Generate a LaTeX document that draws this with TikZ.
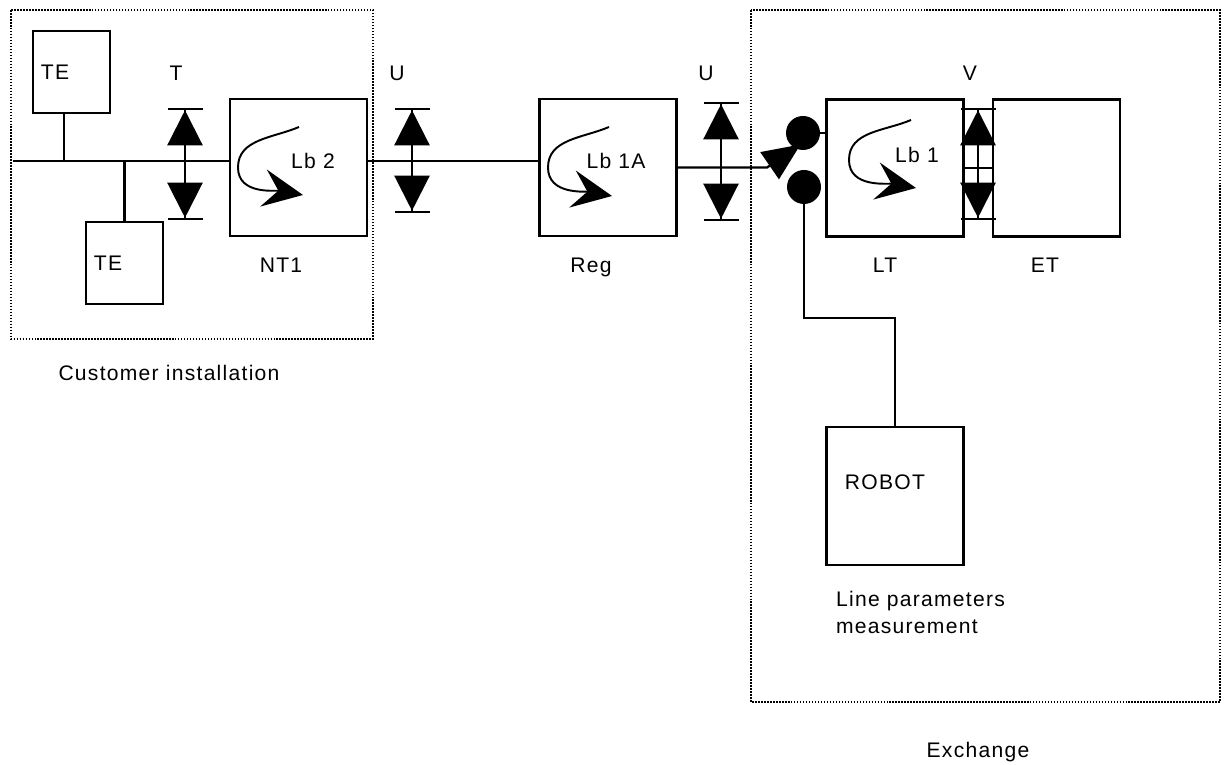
\documentclass[tikz,border=0pt]{standalone}
\usepackage{fontspec}
\setmainfont{Liberation Sans}[LetterSpace=6]
\usepackage{tikz}
\usetikzlibrary{arrows.meta, positioning, calc}

\begin{document}
\begin{tikzpicture}[
  >=Latex,
  wire/.style={line width=1.3pt},
  unit/.style={rectangle, draw=black, line width=1.3pt, minimum width=2.74cm, minimum height=2.74cm, inner sep=0pt},
  term/.style={rectangle, draw=black, line width=1.3pt, minimum width=1.54cm, minimum height=1.64cm, inner sep=0pt},
  txt/.style={font=\fontsize{12}{15.3}\selectfont, inner sep=1pt, text depth=0pt},
  zone/.style={draw=black, line width=1.2pt, dash pattern=on 0.9pt off 0.8pt},
  contact/.style={circle, fill=black, minimum size=0.68cm, inner sep=0pt},
  iface/.style={line width=1.3pt, {Bar[width=7mm]Triangle[width=7mm, length=7mm]}-{Triangle[width=7mm, length=7mm]Bar[width=7mm]}},
  loopback/.style={line width=1.1pt, -{Stealth[length=8mm, width=7.5mm, inset=3mm]}},
  switch/.style={wire, -{Triangle[length=7.5mm, width=6.5mm]}}
]
  \useasboundingbox (0,0) rectangle (24.5,15.3);

  % Customer installation and exchange areas
  \draw[zone] (0.22,15.1) rectangle (7.46,8.52);
  \draw[zone] (15.02,15.1) rectangle (24.4,1.26);
  \node[txt] (custtxt) at (3.38,7.85) {Customer installation};
  \node[txt] (exchtxt) at (19.56,0.31) {Exchange};

  % Terminals
  \node[term] (te1) at (1.43,13.86) {};
  \node[term] (te2) at (2.49,10.04) {};
  \node[txt, anchor=west] (te1txt) at ($(te1.west)+(0.14,0)$) {TE};
  \node[txt, anchor=west] (te2txt) at ($(te2.west)+(0.14,0)$) {TE};

  % Line units
  \node[unit] (nt1) at (5.97,11.95) {};
  \node[unit] (reg) at (12.16,11.95) {};
  \node[unit] (lt) at (17.9,11.94) {};
  \node[unit, minimum width=2.54cm] (et) at (21.13,11.94) {};
  \node[unit, minimum height=2.76cm] (robot) at (17.9,5.38) {};
  \node[txt] (robottxt) at (17.7,5.66) {ROBOT};
  \node[txt, anchor=north west, align=left] (meastxt) at (16.68,3.52) {Line parameters\\measurement};

  % Unit names
  \node[txt] (nt1txt) at (5.62,9.99) {NT1};
  \node[txt] (regtxt) at (11.82,9.99) {Reg};
  \node[txt] (lttxt) at (17.7,9.99) {LT};
  \node[txt] (ettxt) at (20.9,9.99) {ET};

  % Loopback names
  \node[txt] (lb2) at (6.26,12.08) {Lb 2};
  \node[txt] (lb1a) at (12.32,12.08) {Lb 1A};
  \node[txt] (lb1) at (18.34,12.21) {Lb 1};

  % Reference point names
  \node[txt] (tlab) at (3.52,13.84) {T};
  \node[txt] (u1lab) at (7.94,13.84) {U};
  \node[txt] (u2lab) at (14.12,13.84) {U};
  \node[txt] (vlab) at (19.4,13.84) {V};

  % Bus and lines
  \coordinate (busL) at (0.26,12.08);
  \coordinate (j1) at (1.28,12.08);
  \coordinate (j2) at (2.49,12.08);
  \draw[wire] (busL) -- (busL -| nt1.west);
  \draw[wire] (te1.south -| j1) -- (j1);
  \draw[wire] (te2) -- (j2);
  \draw[wire] (busL -| nt1.east) -- (busL -| reg.west);
  \draw[wire] (lt.east) -- (et.west);

  % Reference points
  \coordinate (ttop) at (3.7,13.14);
  \coordinate (tbot) at (3.7,10.9);
  \coordinate (u1top) at (8.24,13.14);
  \coordinate (u1bot) at (8.24,11.04);
  \coordinate (u2top) at (14.42,13.26);
  \coordinate (u2bot) at (14.42,10.88);
  \coordinate (vtop) at (19.56,13.14);
  \coordinate (vbot) at (19.56,10.9);
  \draw[iface] (ttop) -- (tbot);
  \draw[iface] (u1top) -- (u1bot);
  \draw[iface] (u2top) -- (u2bot);
  \draw[iface] (vtop) -- (vbot);

  % Test access switch
  \coordinate (swfoot) at (15.34,11.95);
  \coordinate (swtip) at (16.01,12.41);
  \node[contact] (c1) at (16.06,12.64) {};
  \node[contact] (c2) at (16.08,11.56) {};
  \draw[switch] (reg.east) -- (swfoot) -- (swtip);
  \draw[wire] (c1) -- (c1 -| lt.west);
  \draw[wire] (c2) -- ++(0,-2.62) -| (robot.north);

  % Loopbacks
  \draw[loopback] ($(nt1)+(0.01,0.81)$) to[out=203, in=90] ($(nt1)+(-1.21,0)$) to[out=-90, in=170] ($(nt1)+(0.09,-0.55)$);
  \draw[loopback] ($(reg)+(0.02,0.81)$) to[out=203, in=90] ($(reg)+(-1.2,0)$) to[out=-90, in=170] ($(reg)+(0.08,-0.57)$);
  \draw[loopback] ($(lt)+(0.32,0.96)$) to[out=203, in=90] ($(lt)+(-0.92,0.16)$) to[out=-90, in=170] ($(lt)+(0.42,-0.4)$);
\end{tikzpicture}
\end{document}
